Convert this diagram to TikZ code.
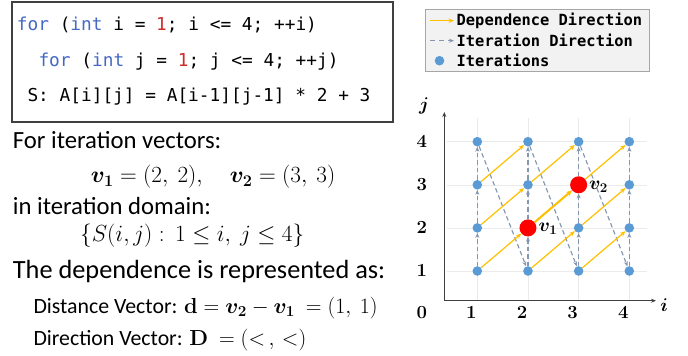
\RequirePackage{fix-cm}
\documentclass[tikz,border=0pt]{standalone}
\usepackage{amsmath,bm}
\usepackage[no-math]{fontspec}
\setmainfont{Carlito}
\newfontfamily\codefont{DejaVu Sans Mono}
\usetikzlibrary{arrows.meta}
\definecolor{dotblue}{RGB}{91,155,213}
\definecolor{deporange}{RGB}{255,192,0}
\definecolor{itergray}{RGB}{132,151,176}
\definecolor{axisgray}{RGB}{64,64,64}
\definecolor{kwblue}{RGB}{68,104,196}
\definecolor{numred}{RGB}{205,45,40}
\definecolor{legfill}{RGB}{242,242,242}
\definecolor{legdraw}{RGB}{166,166,166}
\pgfdeclarelayer{bg}
\pgfsetlayers{bg,main}
\tikzset{
  dot/.style={circle,fill=dotblue,inner sep=0pt,minimum size=9.6pt},
  bigdot/.style={circle,fill=red,inner sep=0pt,minimum size=17pt},
  iterarrow/.style={itergray,line width=1.15pt,dash pattern=on 4.5pt off 3pt,-{Stealth[length=5pt,width=4pt]}},
  deparrow/.style={deporange,line width=1.2pt,-{Stealth[length=5.5pt,width=4.5pt]}},
  axisline/.style={axisgray,line width=1.3pt,-{Stealth[length=5pt,width=4pt]}},
  faint/.style={black!8,line width=0.6pt},
  txt/.style={inner sep=0pt,anchor=base west,font=\fontsize{24.7}{28}\selectfont},
  bigtxt/.style={inner sep=0pt,anchor=base west,font=\fontsize{26.3}{30}\selectfont},
  smalltxt/.style={inner sep=0pt,anchor=base west,font=\fontsize{21.8}{26}\selectfont},
  codetxt/.style={inner sep=0pt,anchor=west,font=\codefont\fontsize{17.8}{21}\selectfont},
  legtxt/.style={inner sep=0pt,anchor=west,font=\codefont\bfseries\fontsize{15.4}{18}\selectfont},
  axlabel/.style={inner sep=0pt,font=\fontsize{18.5}{21}\selectfont},
}
\begin{document}
\begin{tikzpicture}[x=1pt,y=-1pt]
\useasboundingbox (0,0) rectangle (688,356);
% code box
\node[draw=axisgray,line width=2pt,minimum width=381pt,minimum height=119.5pt,inner sep=0pt] (codebox) at (202,61.8) {};
\node[codetxt] (c1) at (16.7,25) {\textcolor{kwblue}{for} (\textcolor{kwblue}{int} i = \textcolor{numred}{1}; i <= 4; ++i)};
\node[codetxt] (c2) at (38.3,61.7) {\textcolor{kwblue}{for} (\textcolor{kwblue}{int} j = \textcolor{numred}{1}; j <= 4; ++j)};
\node[codetxt] (c3) at (27.3,96.7) {S: A[i][j] = A[i-1][j-1] * 2 + 3};
% left text
\node[txt] (t1) at (12.7,148.7) {For iteration vectors:};
\node[inner sep=0pt,anchor=base west,font=\fontsize{23.2}{27}\selectfont] (t2) at (90.7,182.7) {$\bm{v_1} = (2,\ 2),\quad \bm{v_2} = (3,\ 3)$};
\node[txt] (t3) at (12.7,214.5) {in iteration domain:};
\node[inner sep=0pt,anchor=base west,font=\fontsize{23.3}{27}\selectfont] (t4) at (80,241) {$\{S(i,j):\,1 \le i,\ j \le 4\}$};
\node[bigtxt] (t5) at (12.7,278.3) {The dependence is represented as:};
\node[smalltxt] (t6) at (33.3,313.3) {Distance Vector: $\mathbf{d} = \bm{v_2} - \bm{v_1}\ = (1,\ 1)$};
\node[smalltxt] (t7) at (33.3,345) {Direction Vector: $\mathbf{D}\ = ({<}\,,\,{<})$};
% legend
\node[draw=legdraw,fill=legfill,line width=0.8pt,minimum width=224pt,minimum height=62.4pt,inner sep=0pt] (legend) at (537.3,40.5) {};
\coordinate (la1) at (430,20.7); \coordinate (la2) at (454,20.7);
\coordinate (lb1) at (430,40.7); \coordinate (lb2) at (454,40.7);
\draw[deparrow] (la1) -- (la2);
\draw[iterarrow,dash pattern=on 5pt off 4pt] (lb1) -- (lb2);
\node[dot] (ld) at (439.5,60.7) {};
\node[legtxt] (l1) at (456.5,20.7) {Dependence Direction};
\node[legtxt] (l2) at (456.5,40.7) {Iteration Direction};
\node[legtxt] (l3) at (456.5,60.7) {Iterations};
% axes
\coordinate (O) at (444.3,300.7);
\coordinate (Ytop) at (444.3,112);
\coordinate (Xend) at (656,300.7);
\draw[axisline] (O) -- (Ytop);
\draw[axisline] (O) -- (Xend);
\node[axlabel] (lj) at (424,106) {$\bm{j}$};
\node[axlabel] (li) at (664,305) {$\bm{i}$};
\node[axlabel] (l0) at (421.7,313) {$\mathbf{0}$};
\foreach \i in {1,...,4} {
  \node[axlabel] (xl\i) at ({471.3+(\i-1)*50.67},313) {$\mathbf{\i}$};
  \node[axlabel] (yl\i) at (421.7,{271-(\i-1)*43.1}) {$\mathbf{\i}$};
}
% points
\foreach \i/\j in {1/1,1/2,1/3,1/4,2/1,2/3,2/4,3/1,3/2,3/4,4/1,4/2,4/3,4/4}
  \node[dot] (p\i\j) at ({477.3+(\i-1)*50.67},{271-(\j-1)*43.1}) {};
\node[bigdot] (p22) at ({477.3+50.67},{271-43.1}) {};
\node[bigdot] (p33) at ({477.3+2*50.67},{271-2*43.1}) {};
\node[inner sep=0pt,anchor=west,font=\fontsize{19}{21}\selectfont] (v1) at (538.5,229) {$\bm{v_1}$};
\node[inner sep=0pt,anchor=west,font=\fontsize{19}{21}\selectfont] (v2) at (589,187) {$\bm{v_2}$};
\begin{pgfonlayer}{bg}
  \foreach \i in {1,...,4} {
    \draw[faint] ({477.3+(\i-1)*50.67},118) -- ({477.3+(\i-1)*50.67},300);
    \draw[faint] (447,{271-(\i-1)*43.1}) -- (647,{271-(\i-1)*43.1});
  }
  \foreach \i in {1,...,4}
    \foreach \j/\k in {1/2,2/3,3/4}
      \draw[iterarrow] (p\i\j) -- (p\i\k);
  \foreach \i/\k in {1/2,2/3,3/4}
    \draw[iterarrow] (p\i4) -- (p\k1);
  \foreach \i/\k in {1/2,2/3,3/4}
    \foreach \j/\l in {1/2,2/3,3/4}
      \draw[deparrow] (p\i\j) -- (p\k\l);
  \draw[deparrow,line width=2pt] (p22) -- (p33);
\end{pgfonlayer}
\end{tikzpicture}
\end{document}
